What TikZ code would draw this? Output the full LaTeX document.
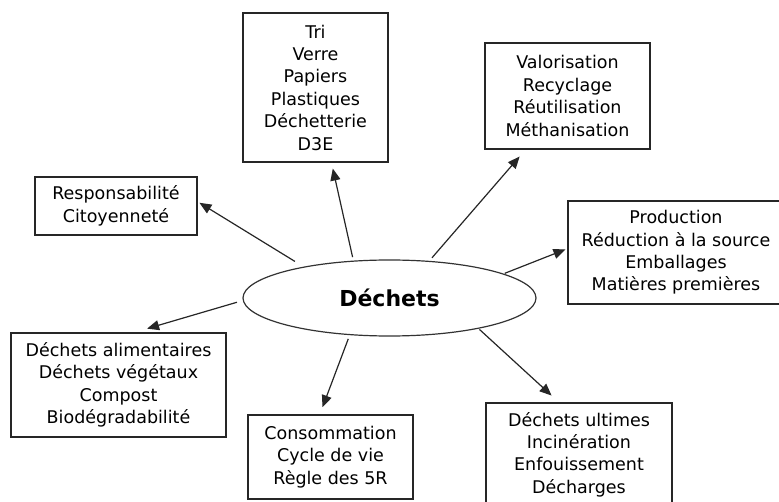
\documentclass[tikz,border=0pt]{standalone}
\usepackage{fontspec}
\setmainfont{DejaVu Sans}
\usepackage{tikz}
\usetikzlibrary{arrows.meta}
\usetikzlibrary{shapes.geometric}

\begin{document}
\begin{tikzpicture}
		[x=1pt, y=-1pt,
			topic/.style={rectangle, draw=black!85, line width=1.4pt, inner sep=0pt, align=center,
				font=\fontsize{17.5}{22.4}\selectfont},
			centre/.style={ellipse, draw=black!80, line width=1.2pt, inner sep=0pt,
				minimum width=293pt, minimum height=76pt, font=\bfseries\fontsize{22}{26}\selectfont},
			link/.style={-{Triangle[length=12pt, width=10pt]}, line width=1.2pt, draw=black!85}]
		\useasboundingbox (0, 0) rectangle (779, 502);
		% central theme
		\node[centre] (dechets) at (389.5, 298) {Déchets};
		% themes around it
		\node[topic, minimum width=145pt, minimum height=149pt] (tri) at (315.5, 87.5)
			{Tri\\Verre\\Papiers\\Plastiques\\Déchetterie\\D3E};
		\node[topic, minimum width=165pt, minimum height=106pt] (valo) at (567.5, 96)
			{Valorisation\\Recyclage\\Réutilisation\\Méthanisation};
		\node[topic, minimum width=162pt, minimum height=58pt] (resp) at (116, 206)
			{Responsabilité\\Citoyenneté};
		\node[topic, minimum width=216pt, minimum height=103pt] (prod) at (676, 252.5)
			{Production\\Réduction à la source\\Emballages\\Matières premières};
		\node[topic, minimum width=215pt, minimum height=104pt] (alim) at (118.5, 385)
			{Déchets alimentaires\\Déchets végétaux\\Compost\\Biodégradabilité};
		\node[topic, minimum width=165pt, minimum height=84pt] (cons) at (330.5, 457)
			{Consommation\\Cycle de vie\\Règle des 5R};
		\node[topic, minimum width=186pt, minimum height=103pt] (ult) at (579, 454.5)
			{Déchets ultimes\\Incinération\\Enfouissement\\Décharges};
		% arrows from the centre
		\draw[link, shorten <=3.5pt, shorten >=6pt] (dechets.134) -- (tri.-78.5);
		\draw[link, shorten <=4pt, shorten >=9pt] (dechets.43.5) -- (valo.-128.7);
		\draw[link, shorten <=10pt, shorten >=2pt] (dechets.160.6) -- (resp.3.7);
		\draw[link, shorten <=1pt, shorten >=2pt] (dechets.12.7) -- (prod.178.3);
		\draw[link, shorten <=6pt, shorten >=13pt] (dechets.181.3) -- (alim.73.1);
		\draw[link, shorten <=4pt, shorten >=7.5pt] (dechets.-137.5) -- (cons.104.8);
		\draw[link, shorten <=1pt, shorten >=10pt] (dechets.-19.4) -- (ult.111.9);
\end{tikzpicture}
\end{document}
